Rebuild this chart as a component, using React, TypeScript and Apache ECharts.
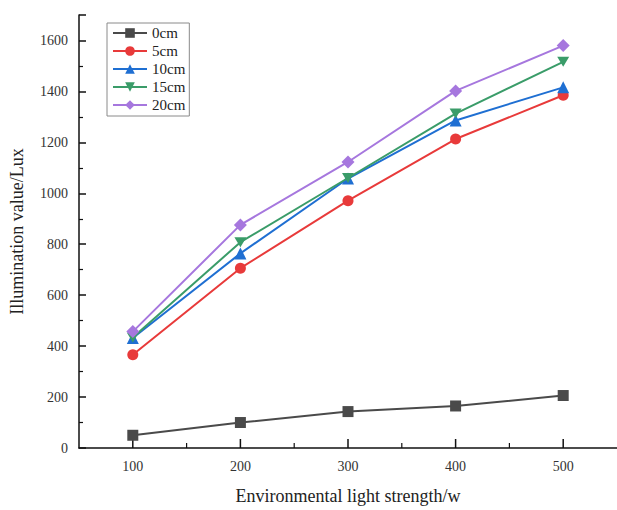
import React, { useEffect, useRef } from "react";
import * as echarts from "echarts";

const xValues = [100, 200, 300, 400, 500];
const xMinorValues = [150, 250, 350, 450];
const seriesNames = ["0cm", "5cm", "10cm", "15cm", "20cm"];
const s0 = [50, 100, 143, 165, 206];
const s5 = [366, 706, 971, 1213, 1385];
const s10 = [432, 764, 1058, 1286, 1416];
const s15 = [434, 808, 1060, 1313, 1516];
const s20 = [457, 876, 1123, 1402, 1580];
const seriesColors = ["#4a4a4a", "#e83a3a", "#1f6fd2", "#3a9c69", "#a677de"];
const seriesSymbols = ["rect", "circle", "triangle", "path://M0,0 L10,0 L5,10 Z", "diamond"];

export default function App() {
  const ref = useRef<HTMLDivElement>(null);
  useEffect(() => {
    if (!ref.current) return;
    const chart = echarts.init(ref.current, undefined, { renderer: "svg" });
    const all = [s0, s5, s10, s15, s20];
    const font = "'Liberation Serif', 'Times New Roman', serif";
    chart.setOption({
      animation: false,
      backgroundColor: "#ffffff",
      textStyle: { fontFamily: font },
      grid: { left: 71, right: -3, top: 15, bottom: 53, containLabel: false },
      legend: {
        orient: "vertical",
        left: 107,
        top: 23,
        itemWidth: 34,
        itemHeight: 12,
        itemGap: 2,
        padding: [2, 4, 3, 5],
        borderColor: "#8a8a8a",
        borderWidth: 1,
        textStyle: { fontFamily: font, fontSize: 15, lineHeight: 16, color: "#222" },
        data: seriesNames,
      },
      xAxis: {
        type: "value",
        min: 50,
        max: 550,
        interval: 100,
        name: "Environmental light strength/w",
        nameLocation: "middle",
        nameGap: 39,
        nameTextStyle: { fontFamily: font, fontSize: 18, color: "#222" },
        axisLine: { show: true, lineStyle: { color: "#111", width: 1.5 } },
        axisTick: { show: false },
        minorTick: { show: false },
        splitLine: { show: false },
        axisLabel: {
          fontFamily: font,
          fontSize: 14,
          color: "#333",
          margin: 11,
          customValues: xValues,
        },
      },
      yAxis: {
        type: "value",
        min: 0,
        max: 1700,
        interval: 200,
        name: "Illumination value/Lux",
        nameLocation: "middle",
        nameGap: 53,
        nameTextStyle: { fontFamily: font, fontSize: 18, color: "#222" },
        axisLine: { show: true, lineStyle: { color: "#111", width: 1.5 } },
        axisTick: { show: true, inside: true, length: 7, lineStyle: { color: "#111", width: 1.5 } },
        minorTick: { show: true, splitNumber: 2, length: 4, lineStyle: { color: "#111", width: 1.2 } },
        splitLine: { show: false },
        axisLabel: {
          fontFamily: font,
          fontSize: 14,
          color: "#333",
          margin: 11,
          showMaxLabel: false,
          formatter: (v: number) => String(v),
        },
      },
      series: seriesNames.map((name, i) => ({
        type: "line",
        name,
        data: xValues.map((x, j) => [x, all[i][j]]),
        symbol: seriesSymbols[i],
        symbolSize: i === 3 ? [12, 10] : i === 2 ? 12 : i === 4 ? 13 : 11,
        showAllSymbol: true,
        lineStyle: { color: seriesColors[i], width: 2 },
        itemStyle: { color: seriesColors[i] },
        z: 3 + i,
      })),
    });
    const y0 = chart.convertToPixel({ yAxisIndex: 0 }, 0) as unknown as number;
    const els: any[] = [];
    xValues.forEach((v) => {
      const p = chart.convertToPixel({ xAxisIndex: 0 }, v) as unknown as number;
      els.push({ type: "line", shape: { x1: p, y1: y0, x2: p, y2: y0 - 9 }, style: { stroke: "#111", lineWidth: 1.5 } });
    });
    xMinorValues.forEach((v) => {
      const p = chart.convertToPixel({ xAxisIndex: 0 }, v) as unknown as number;
      els.push({ type: "line", shape: { x1: p, y1: y0, x2: p, y2: y0 - 5 }, style: { stroke: "#111", lineWidth: 1.2 } });
    });
    chart.setOption({ graphic: els });
    return () => chart.dispose();
  }, []);
  return <div ref={ref} style={{ width: 617, height: 510, position: "absolute", left: 0, top: 0 }} />;
}
